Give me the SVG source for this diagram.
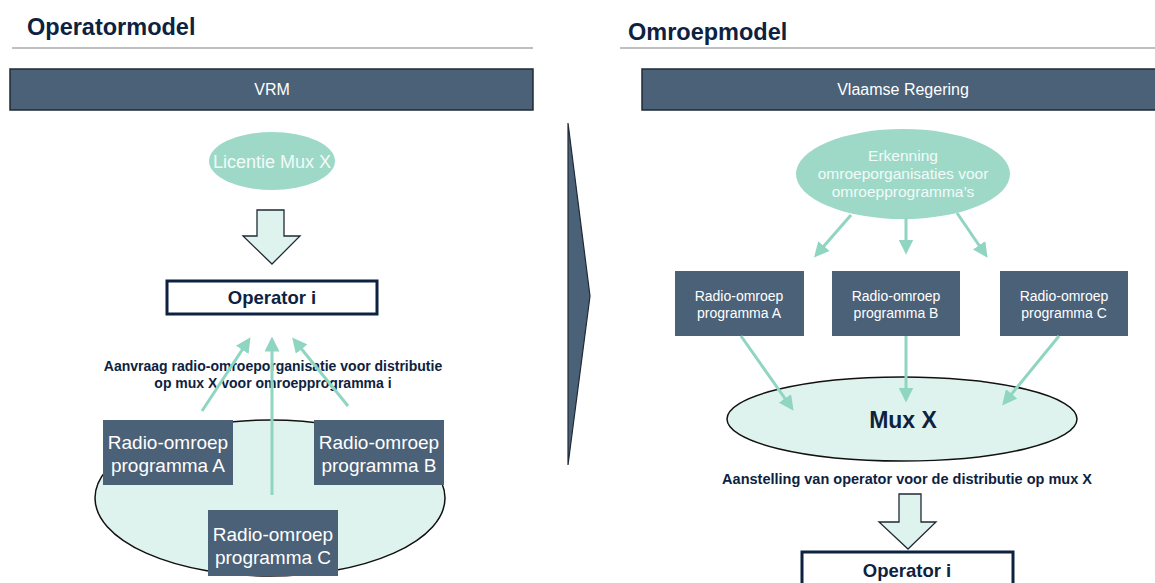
<svg xmlns="http://www.w3.org/2000/svg" width="1155" height="583" viewBox="0 0 1155 583">
<style>
.title{font-family:"Liberation Sans",Arial,sans-serif;font-weight:bold;font-size:23.5px;fill:#0d2240}
.bar{fill:#4b6178;stroke:#1f2a36;stroke-width:1.5}
.bartxt{font-family:"Liberation Sans",Arial,sans-serif;font-size:16px;fill:#ffffff;text-anchor:middle}
.box{fill:#4b6178}
.boxtxtL{font-family:"Liberation Sans",Arial,sans-serif;font-size:19px;fill:#ffffff;text-anchor:middle}
.boxtxtS{font-family:"Liberation Sans",Arial,sans-serif;font-size:14px;fill:#ffffff;text-anchor:middle}
.mint{fill:#9ed9c8}
.pale{fill:#dff3ee;stroke:#111111;stroke-width:1.5}
.elltxt{font-family:"Liberation Sans",Arial,sans-serif;fill:#f2fbf8;text-anchor:middle}
.lbl{font-family:"Liberation Sans",Arial,sans-serif;font-weight:bold;fill:#0d2240;text-anchor:middle}
.op{fill:#ffffff;stroke:#0d2240;stroke-width:3}
.optxt{font-family:"Liberation Sans",Arial,sans-serif;font-weight:bold;font-size:18.5px;fill:#0d2240;text-anchor:middle}
.blk{fill:#dff3ee;stroke:#1f2a36;stroke-width:1.3}
.conn{stroke:#8fd5c1;stroke-width:3;fill:none;marker-end:url(#ah)}
.rule{stroke:#aaaaaa;stroke-width:1.5}
</style>
<defs>
<marker id="ah" markerWidth="5" markerHeight="5" refX="3.5" refY="2.5" orient="auto" markerUnits="strokeWidth">
<path d="M0,0 L5,2.5 L0,5 Z" fill="#8fd5c1"/>
</marker>
</defs>
<rect width="1155" height="583" fill="#ffffff"/>

<g id="left-header">
<text class="title" x="27" y="35">Operatormodel</text>
<line class="rule" x1="12" y1="48" x2="533" y2="48"/>
</g>
<g id="vrm">
<rect class="bar" x="10" y="69" width="523" height="41"/>
<text class="bartxt" x="272" y="95">VRM</text>
</g>
<g id="licentie">
<ellipse class="mint" cx="272" cy="161" rx="63" ry="29"/>
<text class="elltxt" x="272" y="168" font-size="18">Licentie Mux X</text>
</g>
<g id="block-arrow-left">
<path class="blk" d="M257,210 L284,210 L284,236 L300,236 L272,264 L243,236 L257,236 Z"/>
</g>
<g id="operator-left">
<rect class="op" x="167" y="281" width="210" height="33"/>
<text class="optxt" x="272" y="304">Operator i</text>
</g>
<g id="aanvraag-label">
<text class="lbl" x="273" y="371" font-size="14">Aanvraag radio-omroeporganisatie voor distributie</text>
<text class="lbl" x="273" y="388" font-size="14">op mux X voor omroepprogramma i</text>
</g>
<g id="group-ellipse">
<ellipse class="pale" cx="270" cy="498" rx="175" ry="78"/>
</g>
<g id="left-connectors">
<line class="conn" x1="202" y1="411" x2="248" y2="341"/>
<line class="conn" x1="272" y1="495" x2="272" y2="341"/>
<line class="conn" x1="348" y1="406" x2="295" y2="341"/>
</g>
<g id="left-prog-a">
<rect class="box" x="103" y="420" width="130" height="65"/>
<text class="boxtxtL" x="168" y="449">Radio-omroep</text>
<text class="boxtxtL" x="168" y="472">programma  A</text>
</g>
<g id="left-prog-b">
<rect class="box" x="314" y="420" width="130" height="65"/>
<text class="boxtxtL" x="379" y="449">Radio-omroep</text>
<text class="boxtxtL" x="379" y="472">programma  B</text>
</g>
<g id="left-prog-c">
<rect class="box" x="208" y="510" width="130" height="66"/>
<text class="boxtxtL" x="273" y="541">Radio-omroep</text>
<text class="boxtxtL" x="273" y="564">programma  C</text>
</g>

<g id="chevron">
<path d="M568,123 L590,296 L568,465 Z" fill="#4b6178" stroke="#1f2a36" stroke-width="1.2"/>
</g>

<g id="right-header">
<text class="title" x="628" y="40">Omroepmodel</text>
<line class="rule" x1="620" y1="48" x2="1155" y2="48"/>
</g>
<g id="vlaamse-regering">
<rect class="bar" x="642" y="69" width="520" height="41"/>
<text class="bartxt" x="903" y="95">Vlaamse Regering</text>
</g>
<g id="erkenning">
<ellipse class="mint" cx="903" cy="174" rx="107" ry="45"/>
<text class="elltxt" x="903" y="161" font-size="15.5">Erkenning</text>
<text class="elltxt" x="903" y="179" font-size="15.5">omroeporganisaties voor</text>
<text class="elltxt" x="903" y="197" font-size="15.5">omroepprogramma’s</text>
</g>
<g id="right-prog-a">
<rect class="box" x="675" y="271" width="129" height="65"/>
<text class="boxtxtS" x="739" y="301">Radio-omroep</text>
<text class="boxtxtS" x="739" y="318">programma A</text>
</g>
<g id="right-prog-b">
<rect class="box" x="832" y="271" width="128" height="65"/>
<text class="boxtxtS" x="896" y="301">Radio-omroep</text>
<text class="boxtxtS" x="896" y="318">programma B</text>
</g>
<g id="right-prog-c">
<rect class="box" x="1000" y="271" width="128" height="65"/>
<text class="boxtxtS" x="1064" y="301">Radio-omroep</text>
<text class="boxtxtS" x="1064" y="318">programma C</text>
</g>
<g id="mux-x">
<ellipse class="pale" cx="902" cy="419" rx="175" ry="42"/>
<text x="903" y="428" font-family="Liberation Sans, Arial, sans-serif" font-weight="bold" font-size="23" fill="#0d2240" text-anchor="middle">Mux X</text>
</g>
<g id="right-connectors">
<line class="conn" x1="851" y1="215" x2="817" y2="254"/>
<line class="conn" x1="906" y1="218" x2="906" y2="250"/>
<line class="conn" x1="957" y1="213" x2="985" y2="254"/>
<line class="conn" x1="741" y1="336" x2="791" y2="407"/>
<line class="conn" x1="906" y1="336" x2="906" y2="398"/>
<line class="conn" x1="1059" y1="336" x2="1005" y2="402"/>
</g>
<g id="aanstelling-label">
<text class="lbl" x="907" y="484" font-size="14.5">Aanstelling van operator voor de distributie op mux X</text>
</g>
<g id="block-arrow-right">
<path class="blk" d="M899,494 L921,494 L921,522 L936,522 L908,549 L879,522 L899,522 Z"/>
</g>
<g id="operator-right">
<rect class="op" x="802" y="552" width="211" height="40"/>
<text class="optxt" x="907" y="577">Operator i</text>
</g>
</svg>
